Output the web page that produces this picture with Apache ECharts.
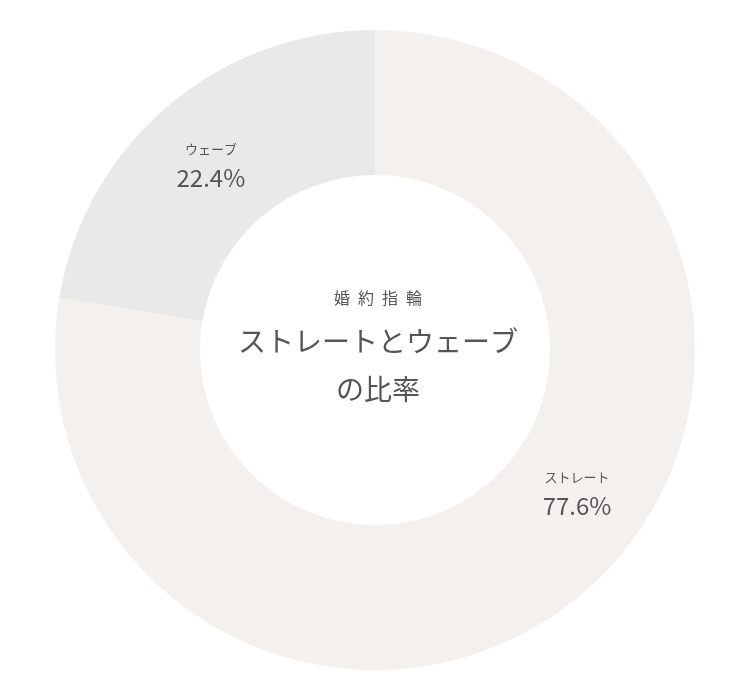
<!DOCTYPE html>
<html>
<head>
  <meta charset="UTF-8">
  <title>婚約指輪 ストレートとウェーブの比率</title>
  <style>
    * {
      margin: 0;
      padding: 0;
    }
    body {
      background: #fff;
    }
    #chart {
      width: 750px;
      height: 700px;
    }
  </style>
  <script src="https://cdn.jsdelivr.net/npm/echarts@6/dist/echarts.min.js"></script>
</head>
<body>
  <div id="chart"></div>
  <script>
    // データ
    const categories = ['ストレート', 'ウェーブ']
    const shares = [77.6, 22.4]
    const sliceColors = ['#f4f0ed', '#e9e9e9']
    // ストレートのラベルは少し上にずらして置かれている
    const labelOffsets = [[40, -49], [-2, 5]]

    const font = '"Noto Sans CJK JP", "Noto Sans", sans-serif'
    const chart = echarts.init(document.getElementById('chart'))

    const option = {
      backgroundColor: '#fff',
      animation: false,
      title: {
        text: '{s|婚\u2002約\u2002指\u2002輪}\n{b|ストレートとウェーブ}\n{b|の比率}',
        left: 373,
        top: 274,
        textAlign: 'center',
        textStyle: {
          fontWeight: 'normal',
          rich: {
            s: { fontFamily: font, fontSize: 16, fontWeight: 'normal', color: '#555', lineHeight: 38, align: 'center' },
            b: { fontFamily: font, fontSize: 28, fontWeight: 'normal', color: '#555', lineHeight: 48, align: 'center' }
          }
        }
      },
      series: [{
        type: 'pie',
        center: [375, 350],
        radius: [175, 320],
        startAngle: 90,
        clockwise: true,
        silent: true,
        labelLine: { show: false },
        data: categories.map((name, i) => ({
          name: name,
          value: shares[i],
          itemStyle: { color: sliceColors[i] },
          label: { offset: labelOffsets[i] }
        })),
        label: {
          show: true,
          position: 'inside',
          formatter: '{n|{b}}\n{v|{c}%}',
          rich: {
            n: { fontFamily: font, fontSize: 13, color: '#555', lineHeight: 28, align: 'center' },
            v: { fontFamily: font, fontSize: 24, color: '#555', lineHeight: 30, align: 'center' }
          }
        }
      }]
    }

    chart.setOption(option)
  </script>
</body>
</html>
